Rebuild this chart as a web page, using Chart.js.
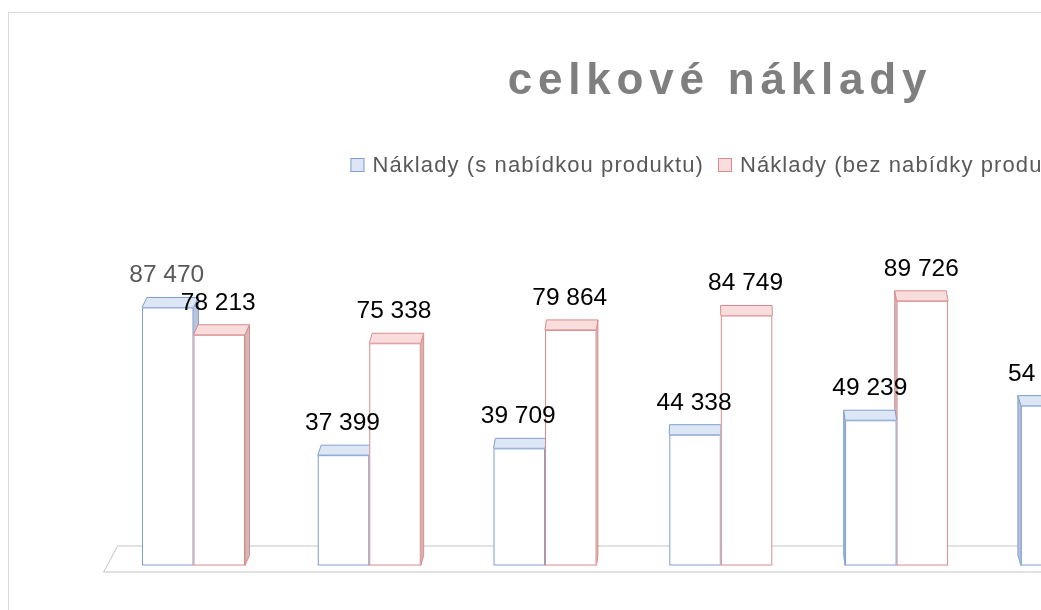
<!DOCTYPE html>
<html>
<head>
<meta charset="utf-8">
<script src="https://cdn.jsdelivr.net/npm/chart.js@4/dist/chart.umd.min.js"></script>
<style>
  html, body { margin: 0; padding: 0; background: #fff; overflow: hidden; width: 1041px; height: 610px; }
  #frame { position: absolute; left: 8px; top: 12px; width: 1500px; height: 700px; border: 1px solid #d9d9d9; box-sizing: border-box; }
  #wrap { position: absolute; left: 0; top: 0; }
</style>
</head>
<body>
<div id="frame"></div>
<div id="wrap"><canvas id="chart" width="1434" height="610"></canvas></div>
<script>
// ===== DATA =====
const titleText = 'celkové náklady';
const categories = ['1', '2', '3', '4', '5', '6', '7'];
const seriesNames = ['Náklady (s nabídkou produktu)', 'Náklady (bez nabídky produktu)'];
const withOffer = [87470, 37399, 39709, 44338, 49239, 54200, 59100];
const withoutOffer = [78213, 75338, 79864, 84749, 89726, 94700, 99700];

// ===== STYLE =====
const looks = [
  { edge: '#7f9fd0', top: '#dce6f4', side: '#b9c4d6' },
  { edge: '#d98a8c', top: '#f9dcdc', side: '#d4b8b8' }
];
const VP_X = 720;      // where the depth offset flips direction
const DEPTH = 10;      // vertical depth of the top face
const fmt = (n) => String(n).replace(/\B(?=(\d{3})+(?!\d))/g, ' ');

// ===== 3D BOX DRAWING =====
function drawBox(ctx, bar, look) {
  const L = bar.x - bar.width / 2, R = bar.x + bar.width / 2;
  const T = bar.y, B = bar.base;
  const dx = (VP_X - bar.x) * 0.009;
  const d = DEPTH;
  ctx.lineWidth = 1;
  ctx.strokeStyle = look.edge;
  // side face
  if (Math.abs(dx) > 0.5) {
    const sx = dx > 0 ? R : L;
    ctx.beginPath();
    ctx.moveTo(sx, T);
    ctx.lineTo(sx + dx, T - d);
    ctx.lineTo(sx + dx, B - d);
    ctx.lineTo(sx, B);
    ctx.closePath();
    ctx.fillStyle = look.side;
    ctx.fill();
    ctx.stroke();
  }
  // top face
  ctx.beginPath();
  ctx.moveTo(L, T);
  ctx.lineTo(R, T);
  ctx.lineTo(R + dx, T - d);
  ctx.lineTo(L + dx, T - d);
  ctx.closePath();
  ctx.fillStyle = look.top;
  ctx.fill();
  ctx.stroke();
  // front face
  ctx.fillStyle = '#ffffff';
  ctx.fillRect(L, T, R - L, B - T);
  ctx.strokeRect(L + 0.5, T + 0.5, R - L - 1, B - T - 1);
  return dx;
}

const boxes3d = {
  id: 'boxes3d',
  afterDatasetsDraw(chart) {
    const ctx = chart.ctx;
    const area = chart.chartArea;
    const base = chart.scales.y.getPixelForValue(0);
    ctx.save();
    // floor
    ctx.strokeStyle = '#c4c4c4';
    ctx.lineWidth = 1;
    ctx.beginPath();
    ctx.moveTo(area.left + 12, base - 19.5);
    ctx.lineTo(area.right - 12, base - 19.5);
    ctx.lineTo(area.right + 2, base + 6.5);
    ctx.lineTo(area.left - 2, base + 6.5);
    ctx.closePath();
    ctx.stroke();

    const m0 = chart.getDatasetMeta(0), m1 = chart.getDatasetMeta(1);
    const labels = [];
    categories.forEach((c, i) => {
      const b0 = m0.data[i], b1 = m1.data[i];
      const order = b0.x < VP_X ? [[b0, 0], [b1, 1]] : [[b1, 1], [b0, 0]];
      order.forEach(([bar, k]) => {
        drawBox(ctx, bar, looks[k]);
        const v = chart.data.datasets[k].data[i];
        labels.push({ x: bar.x - 1, y: bar.y - 25, text: fmt(v), gray: i === 0 && k === 0 });
      });
    });
    // value labels
    ctx.font = '24.5px "Liberation Sans", Arial, sans-serif';
    ctx.textAlign = 'center';
    ctx.textBaseline = 'alphabetic';
    labels.forEach(l => {
      ctx.fillStyle = l.gray ? '#595959' : '#000000';
      ctx.fillText(l.text, l.x, l.y);
    });
    ctx.restore();
  },
  afterDraw(chart) {
    const ctx = chart.ctx;
    const cx = chart.width / 2;
    ctx.save();
    // title
    ctx.font = 'bold 44px "Liberation Sans", Arial, sans-serif';
    ctx.letterSpacing = '5.8px';
    ctx.fillStyle = '#7f7f7f';
    ctx.textAlign = 'left';
    ctx.textBaseline = 'alphabetic';
    const tw = ctx.measureText(titleText).width - 5.8;
    ctx.fillText(titleText, cx - tw / 2, 94);
    // legend
    ctx.font = '22px "Liberation Sans", Arial, sans-serif';
    ctx.letterSpacing = '1.1px';
    const box = 14, gap = 8, itemGap = 14;
    const widths = seriesNames.map(s => ctx.measureText(s).width);
    const total = widths.reduce((a, w) => a + box + gap + w, 0) + itemGap;
    let x = cx - total / 2;
    seriesNames.forEach((s, k) => {
      ctx.fillStyle = looks[k].top;
      ctx.fillRect(x, 158, box, box);
      ctx.strokeStyle = looks[k].edge;
      ctx.lineWidth = 1;
      ctx.strokeRect(x + 0.5, 158.5, box - 1, box - 1);
      ctx.fillStyle = '#595959';
      ctx.fillText(s, x + box + gap, 172);
      x += box + gap + widths[k] + itemGap;
    });
    ctx.restore();
  }
};

// ===== CHART =====
const ctx = document.getElementById('chart').getContext('2d');
new Chart(ctx, {
  type: 'bar',
  data: {
    labels: categories,
    datasets: [
      { label: seriesNames[0], data: withOffer, backgroundColor: 'rgba(0,0,0,0)', borderWidth: 0 },
      { label: seriesNames[1], data: withoutOffer, backgroundColor: 'rgba(0,0,0,0)', borderWidth: 0 }
    ]
  },
  options: {
    responsive: false,
    animation: false,
    events: [],
    categoryPercentage: 0.586,
    barPercentage: 1.0,
    layout: { padding: { left: 105.6, right: 98, top: 270.5, bottom: 44.5 } },
    plugins: { legend: { display: false }, title: { display: false }, tooltip: { enabled: false } },
    scales: {
      x: { display: false },
      y: { display: false, min: 0, max: 100000 }
    }
  },
  plugins: [boxes3d]
});
</script>
</body>
</html>
